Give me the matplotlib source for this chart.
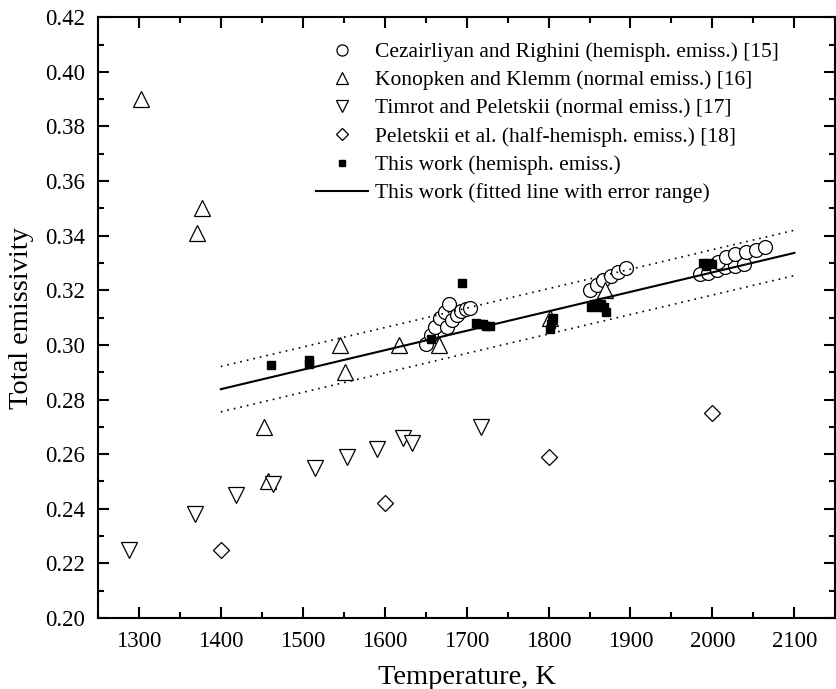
import numpy as np
import matplotlib
matplotlib.use("Agg")
import matplotlib.pyplot as plt
from matplotlib.ticker import MultipleLocator, FormatStrFormatter

plt.rcParams['font.family'] = ['Liberation Serif', 'DejaVu Serif']

# Cezairliyan and Righini (hemisph. emiss.) [15]
cez_T = [1650, 1656, 1662, 1668, 1673, 1678, 1676, 1682, 1688, 1693, 1699, 1704,
         1851, 1859, 1867, 1876, 1885, 1894,
         1985, 1995, 2005, 2015, 2027, 2038, 2007, 2017, 2028, 2041, 2053, 2064]
cez_e = [0.3005, 0.3036, 0.3066, 0.3097, 0.3121, 0.3149, 0.3066, 0.3091, 0.3110, 0.3124, 0.3131, 0.3137,
         0.3200, 0.3218, 0.3236, 0.3251, 0.3267, 0.3280,
         0.3261, 0.3265, 0.3273, 0.3285, 0.3288, 0.3298, 0.3304, 0.3322, 0.3332, 0.3340, 0.3349, 0.3359]

# Konopken and Klemm (normal emiss.) [16]
kon_T = [1302, 1371, 1377, 1453, 1457, 1545, 1551, 1618, 1666, 1802, 1869]
kon_e = [0.390, 0.341, 0.350, 0.270, 0.250, 0.300, 0.290, 0.300, 0.300, 0.310, 0.320]

# Timrot and Peletskii (normal emiss.) [17]
tim_T = [1288, 1368, 1419, 1464, 1515, 1554, 1591, 1622, 1633, 1717]
tim_e = [0.225, 0.238, 0.245, 0.249, 0.255, 0.259, 0.262, 0.266, 0.264, 0.270]

# Peletskii et al. (half-hemisph. emiss.) [18]
pel_T = [1400, 1600, 1800, 2000]
pel_e = [0.225, 0.242, 0.259, 0.275]

# This work (hemisph. emiss.)
tw_T = [1461, 1508, 1508, 1656, 1694, 1712, 1716, 1720, 1724, 1728,
        1802, 1803, 1804, 1806, 1852, 1856, 1860, 1864, 1868, 1870,
        1988, 1992, 1996, 2000]
tw_e = [0.2925, 0.2945, 0.2930, 0.3020, 0.3225, 0.3080, 0.3075, 0.3075, 0.3070, 0.3070,
        0.3060, 0.3075, 0.3090, 0.3100, 0.3140, 0.3150, 0.3140, 0.3150, 0.3140, 0.3120,
        0.3300, 0.3290, 0.3300, 0.3295]

# fitted line with error range
fit_T = np.array([1400, 2100])
fit_e = np.array([0.2838, 0.3337])
fit_err = 0.0083

fig = plt.figure(figsize=(8.37, 6.89), dpi=100)
ax = fig.add_axes([0.117, 0.103, 0.881, 0.872])

mk = dict(linestyle='none', markerfacecolor='white', markeredgecolor='black', markeredgewidth=0.9)
ax.plot(cez_T, cez_e, marker='o', markersize=10, label='Cezairliyan and Righini (hemisph. emiss.) [15]', **mk)
ax.plot(kon_T, kon_e, marker='^', markersize=11, label='Konopken and Klemm (normal emiss.) [16]', **mk)
ax.plot(tim_T, tim_e, marker='v', markersize=11, label='Timrot and Peletskii (normal emiss.) [17]', **mk)
ax.plot(pel_T, pel_e, marker='D', markersize=8, label='Peletskii et al. (half-hemisph. emiss.) [18]', **mk)
ax.plot(tw_T, tw_e, marker='s', markersize=5.5, linestyle='none', color='black',
        label='This work (hemisph. emiss.)')
ax.plot(fit_T, fit_e, color='black', linewidth=1.5, label='This work (fitted line with error range)')
ax.plot(fit_T, fit_e + fit_err, color='black', linewidth=1.2, linestyle=(0, (1, 3)))
ax.plot(fit_T, fit_e - fit_err, color='black', linewidth=1.2, linestyle=(0, (1, 3)))

ax.set_xlim(1250, 2150)
ax.set_ylim(0.20, 0.42)
ax.xaxis.set_major_locator(MultipleLocator(100))
ax.xaxis.set_minor_locator(MultipleLocator(50))
ax.yaxis.set_major_locator(MultipleLocator(0.02))
ax.yaxis.set_minor_locator(MultipleLocator(0.01))
ax.yaxis.set_major_formatter(FormatStrFormatter('%.2f'))
ax.tick_params(which='both', direction='in', top=True, right=True, labelsize=16.5, width=1.5, pad=9)
ax.tick_params(which='major', length=8)
ax.tick_params(which='minor', length=4)
for s in ax.spines.values():
    s.set_linewidth(1.5)

ax.set_xlabel('Temperature, K', fontsize=20.5, labelpad=10)
ax.set_ylabel('Total emissivity', fontsize=20.5, labelpad=8)

leg = ax.legend(loc='upper left', bbox_to_anchor=(0.378, 0.939), bbox_transform=fig.transFigure,
                frameon=False, fontsize=15.5, markerscale=0.8, handlelength=2.4,
                handletextpad=0.3, labelspacing=0.38, borderpad=0, borderaxespad=0)

fig.savefig('out.png', dpi=100)
